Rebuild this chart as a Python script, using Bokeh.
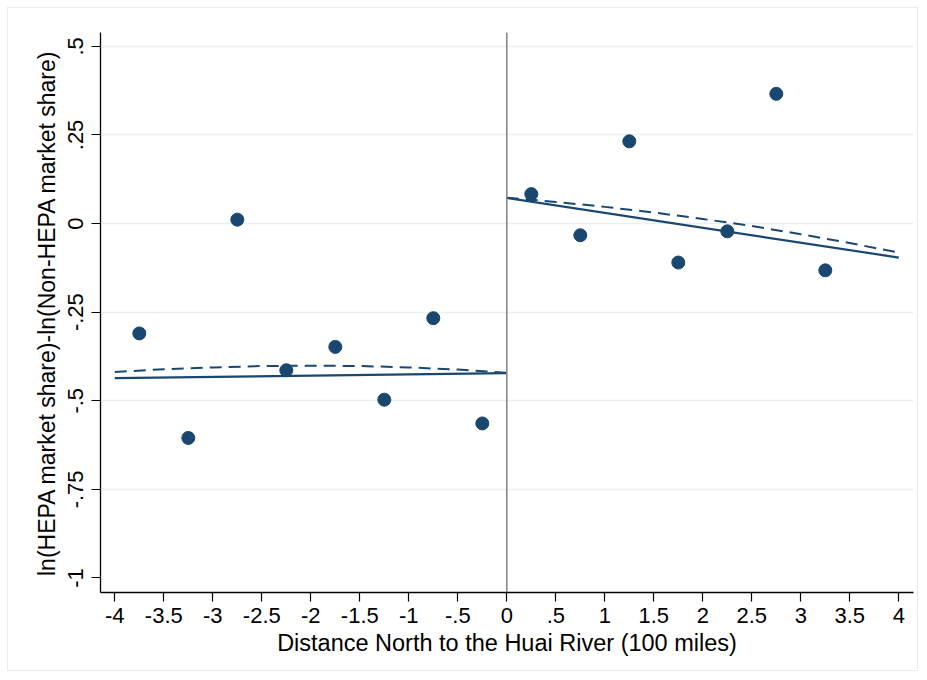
from bokeh.plotting import figure
from bokeh.models import Range1d, FixedTicker, Span
from bokeh.embed import file_html
from bokeh.resources import INLINE

# ---- data ----
south_x = [-3.75, -3.25, -2.75, -2.25, -1.75, -1.25, -0.75, -0.25]
south_y = [-0.310, -0.605, 0.011, -0.414, -0.348, -0.497, -0.267, -0.564]
north_x = [0.25, 0.75, 1.25, 1.75, 2.25, 2.75, 3.25]
north_y = [0.083, -0.033, 0.232, -0.110, -0.022, 0.366, -0.132]

# linear fits (endpoints)
lin_south_x = [-4.0, 0.0]
lin_south_y = [-0.436, -0.422]
lin_north_x = [0.0, 4.0]
lin_north_y = [0.072, -0.096]

# quadratic fits
quad_south_x = [-4.0, -3.5, -3.0, -2.5, -2.0, -1.5, -1.0, -0.5, 0.0]
quad_south_y = [-0.419, -0.411, -0.406, -0.402, -0.401, -0.402, -0.406, -0.412, -0.421]
quad_north_x = [0.0, 0.5, 1.0, 1.5, 2.0, 2.5, 3.0, 3.5, 4.0]
quad_north_y = [0.073, 0.061, 0.047, 0.031, 0.013, -0.007, -0.030, -0.055, -0.082]

x_ticks = [-4, -3.5, -3, -2.5, -2, -1.5, -1, -0.5, 0, 0.5, 1, 1.5, 2, 2.5, 3, 3.5, 4]
x_tick_labels = ["-4", "-3.5", "-3", "-2.5", "-2", "-1.5", "-1", "-.5", "0",
                 ".5", "1", "1.5", "2", "2.5", "3", "3.5", "4"]
y_ticks = [-1, -0.75, -0.5, -0.25, 0, 0.25, 0.5]
y_tick_labels = ["-1", "-.75", "-.5", "-.25", "0", ".25", ".5"]
y_grid = [-0.75, -0.5, -0.25, 0, 0.25, 0.5]

x_title = "Distance North to the Huai River (100 miles)"
y_title = "ln(HEPA market share)-ln(Non-HEPA market share)"

NAVY = "#1a476f"
FONT = "Liberation Sans"

p = figure(width=911, height=664, output_backend="svg", toolbar_location=None,
           x_range=Range1d(-4.146, 4.15), y_range=Range1d(-1.041, 0.539),
           min_border_left=92, min_border_right=6, min_border_top=24, min_border_bottom=80)
p.styles = {"border": "1px solid #e6ecef", "margin-left": "7px", "margin-top": "7px"}
p.outline_line_color = None
p.background_fill_color = "white"
p.border_fill_color = "white"

# grid
p.xgrid.visible = False
p.ygrid.ticker = FixedTicker(ticks=y_grid)
p.ygrid.grid_line_color = "#eaf0f2"
p.ygrid.grid_line_width = 1.5

# axes
p.xaxis.ticker = FixedTicker(ticks=x_ticks)
p.xaxis.major_label_overrides = {t: l for t, l in zip(x_ticks, x_tick_labels)}
p.yaxis.ticker = FixedTicker(ticks=y_ticks)
p.yaxis.major_label_overrides = {t: l for t, l in zip(y_ticks, y_tick_labels)}
p.yaxis.major_label_orientation = "vertical"
for ax in (p.xaxis, p.yaxis):
    ax.axis_line_color = "#000000"
    ax.axis_line_width = 1.3
    ax.major_tick_line_color = "#000000"
    ax.major_tick_line_width = 1.2
    ax.major_tick_out = 9
    ax.major_tick_in = 0
    ax.minor_tick_line_color = None
    ax.major_label_text_font = FONT
    ax.major_label_text_font_size = "22px"
    ax.major_label_text_color = "#000000"
    ax.axis_label_text_font = FONT
    ax.axis_label_text_font_style = "normal"
    ax.axis_label_text_color = "#000000"
p.xaxis.axis_label_text_font_size = "23.5px"
p.yaxis.axis_label_text_font_size = "23px"
p.xaxis.axis_label = x_title
p.yaxis.axis_label = y_title
p.xaxis.major_label_standoff = 6
p.xaxis.axis_label_standoff = 4
p.yaxis.major_label_standoff = 8
p.yaxis.axis_label_standoff = 6

# cutoff line
p.add_layout(Span(location=0, dimension="height", line_color="#808080", line_width=1.5))

# fits
p.line(lin_south_x, lin_south_y, line_color=NAVY, line_width=2.2)
p.line(lin_north_x, lin_north_y, line_color=NAVY, line_width=2.2)
p.line(quad_south_x, quad_south_y, line_color=NAVY, line_width=2, line_dash="12 7")
p.line(quad_north_x, quad_north_y, line_color=NAVY, line_width=2, line_dash="12 7")

# bins
p.scatter(south_x, south_y, size=13, fill_color=NAVY, line_color=NAVY)
p.scatter(north_x, north_y, size=13, fill_color=NAVY, line_color=NAVY)

open("out.html", "w").write(file_html(p, INLINE))
